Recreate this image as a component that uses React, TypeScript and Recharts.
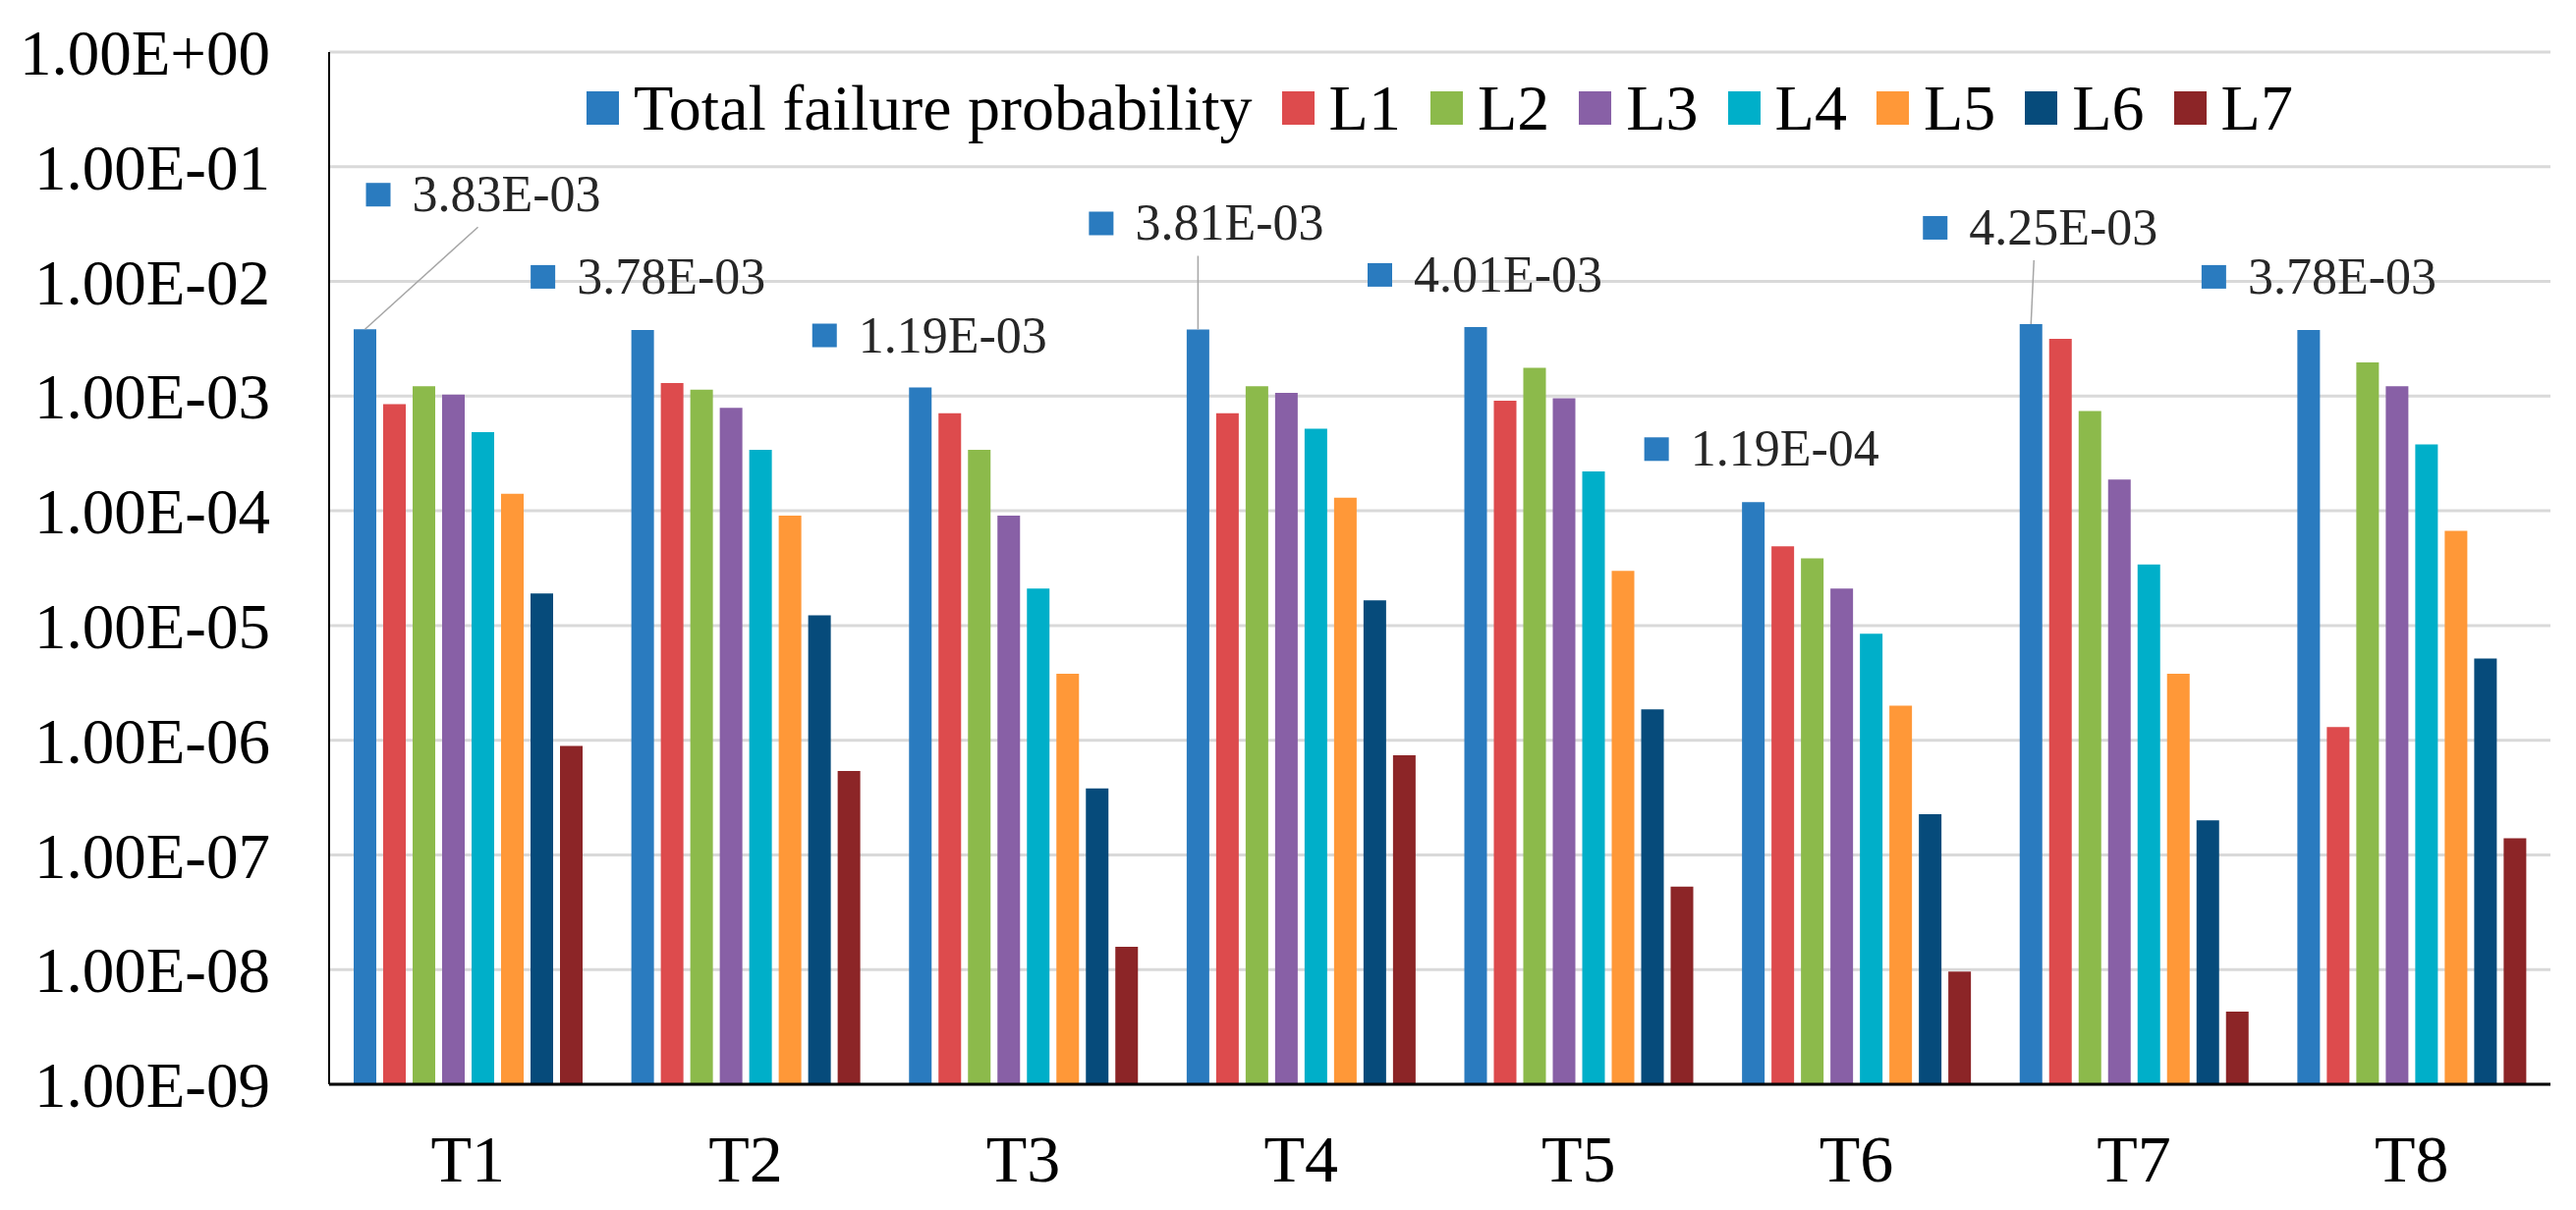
import React from 'react';
import { BarChart, Bar, XAxis, YAxis, CartesianGrid, Legend, LabelList } from 'recharts';

// categories and series values (read off a log axis, so estimated)
const categories = ['T1', 'T2', 'T3', 'T4', 'T5', 'T6', 'T7', 'T8'];
const totalFailure = [3.83e-3, 3.78e-3, 1.19e-3, 3.81e-3, 4.01e-3, 1.19e-4, 4.25e-3, 3.78e-3];
const l1 = [8.5e-4, 1.3e-3, 7.1e-4, 7.1e-4, 9.1e-4, 4.9e-5, 3.16e-3, 1.3e-6];
const l2 = [1.22e-3, 1.14e-3, 3.4e-4, 1.22e-3, 1.77e-3, 3.85e-5, 7.4e-4, 1.97e-3];
const l3 = [1.03e-3, 7.9e-4, 9.1e-5, 1.07e-3, 9.6e-4, 2.1e-5, 1.87e-4, 1.22e-3];
const l4 = [4.85e-4, 3.4e-4, 2.1e-5, 5.2e-4, 2.2e-4, 8.5e-6, 3.4e-5, 3.8e-4];
const l5 = [1.41e-4, 9.1e-5, 3.8e-6, 1.3e-4, 3.0e-5, 2.0e-6, 3.8e-6, 6.7e-5];
const l6 = [1.9e-5, 1.23e-5, 3.8e-7, 1.66e-5, 1.86e-6, 2.26e-7, 2.0e-7, 5.15e-6];
const l7 = [8.9e-7, 5.4e-7, 1.58e-8, 7.4e-7, 5.3e-8, 9.6e-9, 4.3e-9, 1.4e-7];

const yTicks = [1, 1e-1, 1e-2, 1e-3, 1e-4, 1e-5, 1e-6, 1e-7, 1e-8, 1e-9];

const seriesKeys = ['total', 'L1', 'L2', 'L3', 'L4', 'L5', 'L6', 'L7'];
const seriesNames = ['Total failure probability', 'L1', 'L2', 'L3', 'L4', 'L5', 'L6', 'L7'];
const seriesColors = ['#2A7BBF', '#DD4B4D', '#8CBA4B', '#8860A6', '#00AFC9', '#FF9838', '#064B7B', '#8C2527'];

// where each data label sits relative to the top of its bar
const labelPlacement = [
  { dx: 1, dy: -137, leader: 115 },
  { dx: -114, dy: -54 },
  { dx: -110, dy: -53 },
  { dx: -111, dy: -108, leader: 0 },
  { dx: -110, dy: -53 },
  { dx: -111, dy: -54 },
  { dx: -110, dy: -98, leader: 3 },
  { dx: -109, dy: -54 },
];

const data = categories.map((name, i) => ({
  name,
  total: totalFailure[i],
  L1: l1[i],
  L2: l2[i],
  L3: l3[i],
  L4: l4[i],
  L5: l5[i],
  L6: l6[i],
  L7: l7[i],
}));

const FONT = '"Liberation Serif", "Times New Roman", serif';

const sci = (v: number) => {
  const [m, e] = v.toExponential(2).split('e');
  const n = parseInt(e, 10);
  const sign = n < 0 ? '-' : '+';
  return `${m}E${sign}${String(Math.abs(n)).padStart(2, '0')}`;
};

const TotalLabel = (props: any) => {
  const { x, y, width, value, index } = props;
  const p = labelPlacement[index] || { dx: -110, dy: -54 };
  const cx = x + width / 2;
  const cy = y + p.dy;
  const left = cx + p.dx;
  return (
    <g>
      {p.leader !== undefined && (
        <line x1={cx + p.leader} y1={cy + 33} x2={cx} y2={y} stroke="#a6a6a6" strokeWidth={1.5} />
      )}
      <rect x={left} y={cy - 12} width={25} height={24} fill={seriesColors[0]} />
      <text x={left + 47} y={cy + 17} fontSize={52} fontFamily={FONT} fill="#262626">
        {sci(value)}
      </text>
    </g>
  );
};

const LegendContent = () => (
  <div
    style={{
      display: 'flex',
      justifyContent: 'center',
      alignItems: 'center',
      fontFamily: FONT,
      fontSize: 66,
      lineHeight: '68px',
      color: '#000',
      whiteSpace: 'nowrap',
    }}
  >
    {seriesNames.map((n, i) => (
      <div key={n} style={{ display: 'flex', alignItems: 'center', marginRight: i < seriesNames.length - 1 ? 30 : 0 }}>
        <span style={{ width: 33, height: 34, background: seriesColors[i], marginRight: 15, display: 'inline-block' }} />
        <span>{n}</span>
      </div>
    ))}
  </div>
);

export default function App() {
  return (
    <BarChart
      width={2606}
      height={1216}
      data={data}
      margin={{ top: 45, right: 18, bottom: 0, left: 0 }}
      barCategoryGap={25}
      barGap={7}
    >
      <CartesianGrid vertical={false} stroke="#d9d9d9" strokeWidth={3} />
      <XAxis
        dataKey="name"
        height={120}
        tickLine={false}
        tickSize={0}
        tickMargin={51}
        axisLine={{ stroke: '#000', strokeWidth: 3 }}
        tick={{ fontSize: 68, fontFamily: FONT, fill: '#000' }}
      />
      <YAxis
        scale="log"
        domain={[1e-9, 1]}
        ticks={yTicks}
        allowDataOverflow
        width={327}
        tickLine={false}
        tickSize={0}
        tickMargin={60}
        tickFormatter={sci}
        axisLine={{ stroke: '#000', strokeWidth: 2 }}
        tick={{ fontSize: 65, fontFamily: FONT, fill: '#000' }}
      />
      <Legend
        layout="horizontal"
        verticalAlign="middle"
        align="center"
        content={<LegendContent />}
        wrapperStyle={{ top: 68, left: 327, width: 2261 }}
      />
      {seriesKeys.map((k, i) => (
        <Bar key={k} dataKey={k} name={seriesNames[i]} fill={seriesColors[i]} isAnimationActive={false}>
          {i === 0 && <LabelList dataKey="total" content={<TotalLabel />} />}
        </Bar>
      ))}
    </BarChart>
  );
}
